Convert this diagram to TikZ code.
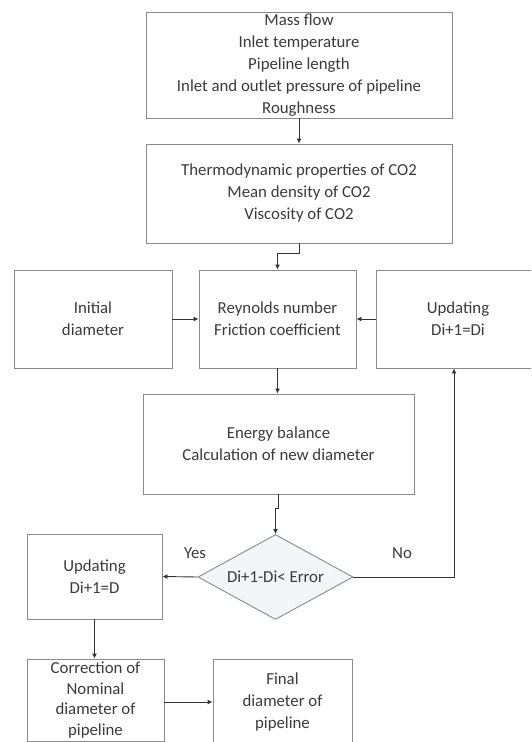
\documentclass[tikz,border=0pt]{standalone}
\usepackage{fontspec}
\setmainfont{Carlito}
\usetikzlibrary{shapes.geometric,arrows.meta}
\definecolor{boxline}{HTML}{8A8A8A}
\definecolor{txt}{HTML}{3A3A3A}
\definecolor{dfill}{HTML}{F3F5F9}
\begin{document}
\begin{tikzpicture}[x=1pt,y=-1pt,
  box/.style={draw=boxline,line width=0.9pt,rectangle,inner sep=0pt,align=center,text=txt,font=\fontsize{16.8}{22}\selectfont},
  dec/.style={draw=boxline,line width=0.9pt,diamond,fill=dfill,inner sep=0pt,align=center,text=txt,font=\fontsize{16.8}{22}\selectfont,minimum width=155pt,minimum height=85pt,aspect=1.82},
  arr/.style={draw=black!80,line width=0.9pt,-{Latex[length=5pt,width=5pt]}},
  lbl/.style={text=txt,font=\fontsize{16.8}{22}\selectfont}]
\useasboundingbox (0,0) rectangle (531,742);
\clip (0,0) rectangle (531,742);
\node[box,minimum width=306pt,minimum height=106pt] (in) at (299,65) {Mass flow\\Inlet temperature\\Pipeline length\\Inlet and outlet pressure of pipeline\\Roughness};
\node[box,minimum width=306pt,minimum height=99pt] (prop) at (299,193.5) {Thermodynamic properties of CO2\\Mean density of CO2\\Viscosity of CO2};
\node[box,minimum width=158pt,minimum height=98pt] (init) at (93,319) {Initial\\diameter};
\node[box,minimum width=157pt,minimum height=98pt] (rey) at (277.5,319) {Reynolds number\\Friction coefficient};
\node[box,minimum width=164pt,minimum height=98pt] (updr) at (458,319) {Updating\\Di+1=Di};
\node[box,minimum width=271pt,minimum height=100pt] (en) at (278.5,444) {Energy balance\\Calculation of new diameter};
\node[dec] (dia) at (275.5,577) {Di+1-Di< Error};
\node[box,minimum width=135pt,minimum height=85pt] (updl) at (94.5,576.5) {Updating\\Di+1=D};
\node[box,minimum width=137pt,minimum height=82pt,font=\fontsize{16.8}{20.5}\selectfont] (corr) at (95.5,700) {Correction of\\Nominal\\diameter of\\pipeline};
\node[box,minimum width=139pt,minimum height=86pt] (fin) at (282.5,702) {Final\\diameter of\\pipeline};
\node[lbl] (yes) at (195,553) {Yes};
\node[lbl] (no) at (402,553) {No};
\coordinate (nocorner) at (454,577);
\draw[arr] (in.south) -- (prop.north);
\draw[arr] (prop.south) -- ++(0,10) -| (rey.north);
\draw[arr] (init.east) -- (rey.west);
\draw[arr] (updr.west) -- (rey.east);
\draw[arr] (rey.south) -- (rey.south |- en.north);
\draw[arr] (en.south) -- ++(0,14) -| (dia.north);
\draw[arr] (dia.west) -- (updl.east);
\draw[arr] (dia.east) -- (nocorner) -- (nocorner |- updr.south);
\draw[arr] (updl.south) -- (updl.south |- corr.north);
\draw[arr] (corr.east |- fin.west) -- (fin.west);
\end{tikzpicture}
\end{document}
